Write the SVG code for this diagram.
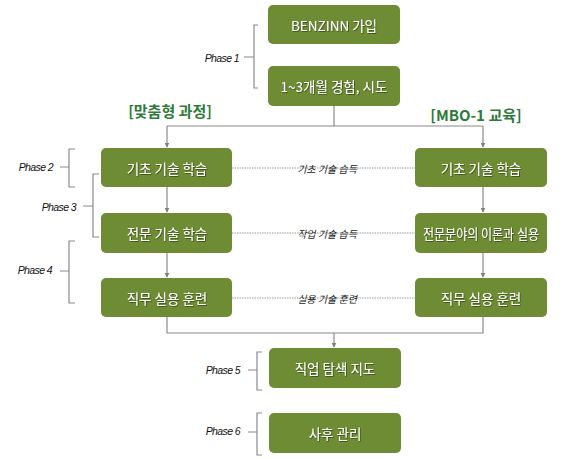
<svg xmlns="http://www.w3.org/2000/svg" width="584" height="458" viewBox="0 0 584 458">
<defs>
<marker id="ah" viewBox="0 0 8 8" refX="7" refY="4" markerWidth="5" markerHeight="5" orient="auto" markerUnits="userSpaceOnUse">
<path d="M0,0 L8,4 L0,8 z" fill="#808080"/>
</marker>
<filter id="ts" x="-10%" y="-30%" width="120%" height="160%">
<feDropShadow dx="0.8" dy="0.8" stdDeviation="0.6" flood-color="#2a3a10" flood-opacity="0.8"/>
</filter>
</defs>
<style>
.box{fill:#6e8c33;}
.bt{font-family:"Noto Sans CJK KR","Noto Sans",sans-serif;font-size:13.5px;fill:#ffffff;text-anchor:middle;dominant-baseline:central;filter:url(#ts);}
.conn{fill:none;stroke:#8a8a8a;stroke-width:1.2;}
.dot{fill:none;stroke:#9a9a9a;stroke-width:1;stroke-dasharray:1.5 1;}
.br{fill:none;stroke:#8a8a8a;stroke-width:1.2;}
.ph{font-family:"Liberation Sans",Arial,sans-serif;font-size:10.5px;font-style:italic;fill:#111;text-anchor:end;dominant-baseline:central;letter-spacing:-0.6px;}
.dl{font-family:"Noto Sans CJK KR",sans-serif;font-size:10px;font-style:italic;fill:#222;text-anchor:middle;dominant-baseline:central;}
.gl{font-family:"Noto Sans CJK KR",sans-serif;font-size:15px;font-weight:bold;fill:#2f7a3a;text-anchor:middle;dominant-baseline:central;}
</style>
<rect width="584" height="458" fill="#ffffff"/>
<g id="connectors">
<path class="conn" d="M334,106 V126 M167,126 H483"/>
<path class="conn" d="M167,126 V147" marker-end="url(#ah)"/>
<path class="conn" d="M483,126 V147" marker-end="url(#ah)"/>
<path class="conn" d="M167,187 V212" marker-end="url(#ah)"/>
<path class="conn" d="M167,253 V277" marker-end="url(#ah)"/>
<path class="conn" d="M483,187 V212" marker-end="url(#ah)"/>
<path class="conn" d="M483,253 V277" marker-end="url(#ah)"/>
<path class="conn" d="M167,317 V333 H483 V317"/>
<path class="conn" d="M334,333 V347" marker-end="url(#ah)"/>
<path class="dot" d="M232,168 H415 M232,233 H415 M232,298 H415"/>
</g>
<g id="brackets">
<path class="br" d="M258,25 H254 V88 H258 M244,57 H254"/>
<path class="br" d="M75,149 H69 V187 H75 M60,167 H69"/>
<path class="br" d="M99,174 H93 V237 H99 M83,206 H93"/>
<path class="br" d="M75,241 H69 V303 H75 M60,271 H69"/>
<path class="br" d="M262,352 H257 V390 H262 M248,370 H257"/>
<path class="br" d="M262,413 H257 V455 H262 M248,432 H257"/>
<text class="ph" x="239" y="58">Phase 1</text>
<text class="ph" x="53" y="167">Phase 2</text>
<text class="ph" x="76" y="207">Phase 3</text>
<text class="ph" x="52" y="270">Phase 4</text>
<text class="ph" x="240" y="370">Phase 5</text>
<text class="ph" x="240" y="431">Phase 6</text>
</g>
<g id="labels">
<text class="gl" x="170" y="110">[맞춤형 과정]</text>
<text class="gl" x="476" y="114">[MBO-1 교육]</text>
<text class="dl" x="327" y="168">기초 기술 습득</text>
<text class="dl" x="327" y="233">작업 기술 습득</text>
<text class="dl" x="327" y="298">실용 기술 훈련</text>
</g>
<g id="n1"><rect class="box" x="268" y="5" width="132" height="39" rx="5"/><text class="bt" x="334" y="25">BENZINN 가입</text></g>
<g id="n2"><rect class="box" x="268" y="66" width="132" height="40" rx="5"/><text class="bt" x="334" y="86">1~3개월 경험, 시도</text></g>
<g id="l1"><rect class="box" x="101" y="148" width="131" height="39" rx="5"/><text class="bt" x="167" y="168">기초 기술 학습</text></g>
<g id="l2"><rect class="box" x="101" y="213" width="131" height="40" rx="5"/><text class="bt" x="167" y="233">전문 기술 학습</text></g>
<g id="l3"><rect class="box" x="101" y="278" width="131" height="39" rx="5"/><text class="bt" x="167" y="298">직무 실용 훈련</text></g>
<g id="r1"><rect class="box" x="415" y="148" width="132" height="39" rx="5"/><text class="bt" x="481" y="168">기초 기술 학습</text></g>
<g id="r2"><rect class="box" x="415" y="213" width="132" height="40" rx="5"/><text class="bt" x="481" y="233" textLength="116" lengthAdjust="spacingAndGlyphs">전문분야의 이론과 실용</text></g>
<g id="r3"><rect class="box" x="415" y="278" width="132" height="39" rx="5"/><text class="bt" x="481" y="298">직무 실용 훈련</text></g>
<g id="n5"><rect class="box" x="269" y="348" width="132" height="40" rx="5"/><text class="bt" x="335" y="368">직업 탐색 지도</text></g>
<g id="n6"><rect class="box" x="269" y="413" width="132" height="40" rx="5"/><text class="bt" x="335" y="433">사후 관리</text></g>
</svg>
